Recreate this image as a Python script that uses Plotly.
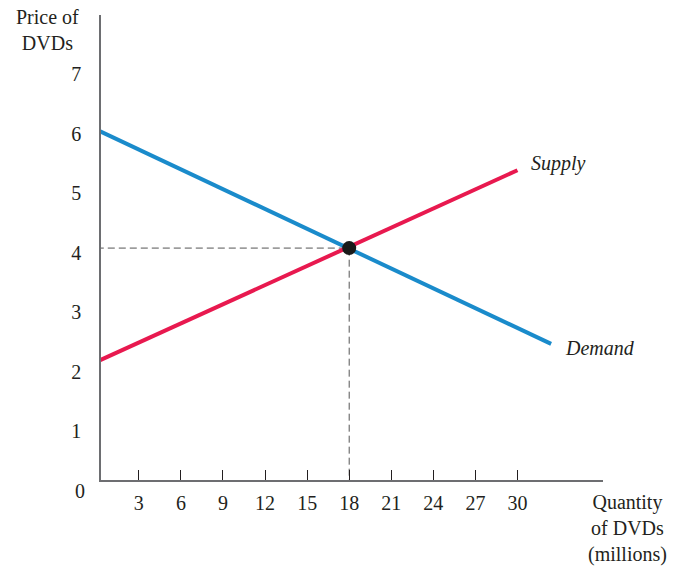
import plotly.graph_objects as go

# Data
demand_q = [0, 32.4]
demand_p = [6.07, 2.47]
supply_q = [0, 30]
supply_p = [2.17, 5.39]
eq_q = 18
eq_p = 4.08
x_ticks = [3, 6, 9, 12, 15, 18, 21, 24, 27, 30]
y_ticks = [1, 2, 3, 4, 5, 6, 7]

FONT = "Liberation Serif"
TXT = "#231f20"
FS = 20

fig = go.Figure()
# dashed guides
fig.add_trace(go.Scatter(x=[0, eq_q, eq_q], y=[eq_p, eq_p, 0], mode="lines",
                         line=dict(color="#555555", width=1, dash="7px,4px"),
                         hoverinfo="skip", showlegend=False))
fig.add_trace(go.Scatter(x=demand_q, y=demand_p, mode="lines",
                         line=dict(color="#1a8bcb", width=4), showlegend=False))
fig.add_trace(go.Scatter(x=supply_q, y=supply_p, mode="lines",
                         line=dict(color="#e8194f", width=4), showlegend=False))
fig.add_trace(go.Scatter(x=[eq_q], y=[eq_p], mode="markers",
                         marker=dict(color="#1a1a1a", size=14), showlegend=False))

fig.update_layout(
    width=688, height=566,
    margin=dict(l=101, r=85, t=15, b=86),
    plot_bgcolor="white", paper_bgcolor="white",
    font=dict(family=FONT, size=FS, color=TXT),
    xaxis=dict(range=[0.3, 36.1], showgrid=False, zeroline=False,
               showline=True, linecolor="#6d6e71", linewidth=1.5,
               tickvals=x_ticks, ticks="inside", ticklen=10, tickcolor="#231f20",
               tickwidth=1.2, ticklabelstandoff=4,
               tickfont=dict(family=FONT, size=FS, color=TXT)),
    yaxis=dict(range=[0.18, 8.0], showgrid=False, zeroline=False,
               showline=True, linecolor="#6d6e71", linewidth=1.5,
               tickvals=y_ticks, ticks="", ticklabelstandoff=14,
               tickfont=dict(family=FONT, size=FS, color=TXT)),
    annotations=[
        dict(x=-0.0418, y=-0.0237, xref="paper", yref="paper", text="0", showarrow=False,
             xanchor="center", yanchor="middle",
             font=dict(family=FONT, size=FS, color=TXT)),
        dict(x=-0.1056, y=0.9667, xref="paper", yref="paper",
             text="Price of<br>DVDs", showarrow=False, align="center",
             xanchor="center", yanchor="middle",
             font=dict(family=FONT, size=FS, color=TXT)),
        dict(x=1.048, y=-0.105, xref="paper", yref="paper",
             text="Quantity<br>of DVDs<br>(millions)", showarrow=False, align="center",
             xanchor="center", yanchor="middle",
             font=dict(family=FONT, size=FS, color=TXT)),
        dict(x=supply_q[1], y=supply_p[1], xref="x", yref="y",
             text="<i>Supply</i>", showarrow=False, xanchor="left", yanchor="middle",
             xshift=12, yshift=7,
             font=dict(family=FONT, size=FS, color=TXT)),
        dict(x=demand_q[1], y=demand_p[1], xref="x", yref="y",
             text="<i>Demand</i>", showarrow=False, xanchor="left", yanchor="middle",
             xshift=12, yshift=-4,
             font=dict(family=FONT, size=FS, color=TXT)),
    ],
)

fig.write_html("out.html", config={"displayModeBar": False},
               post_script="document.body.style.margin='0';")
